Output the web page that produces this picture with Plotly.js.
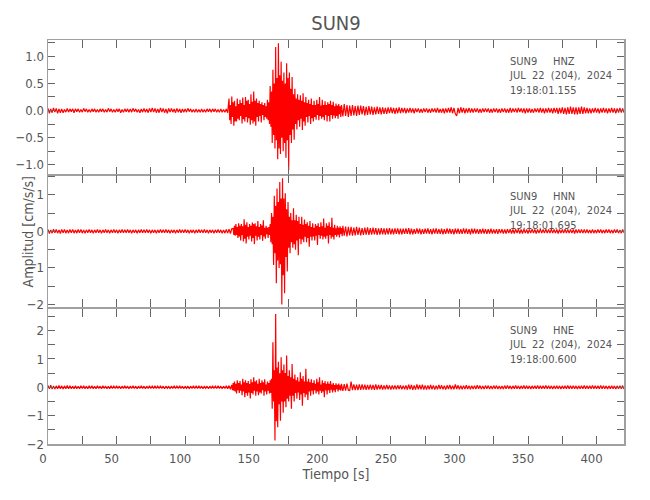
<!DOCTYPE html>
<html>
<head>
<meta charset="utf-8">
<script src="https://cdn.plot.ly/plotly-3.0.1.min.js"></script>
<style>html,body{margin:0;padding:0;background:#fff;}#chart{width:650px;height:500px;}</style>
</head>
<body>
<div id="chart"></div>
<script>
// ---------- data (acceleration, cm/s/s) ----------
var chartTitle = 'SUN9';
var xTitle = 'Tiempo [s]';
var yTitle = 'Amplitud [cm/s/s]';
var stations = ['SUN9', 'SUN9', 'SUN9'];
var channels = ['HNZ', 'HNN', 'HNE'];
var dateLabel = 'JUL  22  (204),  2024';
var startTimes = ['19:18:01.155', '19:18:01.695', '19:18:00.600'];

// segment start times [s] and sample steps [s]
var Z_starts = [0, 132, 215, 261];
var N_starts = [0, 135, 215, 261];
var E_starts = [0, 134, 215, 261];
var seg_steps = [1, 0.5, 1, 1];

// HNZ
var Z_pre = [.04,-.05,.03,-.04,.05,-.03,.04,-.05,.03,-.04,
.03,-.04,.02,-.03,.04,-.03,.03,-.02,.03,-.04,
.03,-.02,.03,-.03,.02,-.03,.04,-.02,.03,-.03,
.02,-.03,.03,-.02,.03,-.03,.02,-.03,.03,-.02,
.03,-.03,.02,-.03,.04,-.02,.03,-.03,.02,-.03,
.03,-.02,.03,-.04,.02,-.03,.03,-.02,.03,-.03,
.03,-.03,.04,-.02,.03,-.03,.02,-.04,.03,-.03,
.04,-.03,.03,-.04,.04,-.03,.05,-.03,.04,-.04,
.03,-.04,.05,-.03,.04,-.04,.03,-.05,.04,-.03,
.04,-.03,.03,-.04,.04,-.03,.03,-.04,.03,-.03,
.03,-.03,.04,-.02,.03,-.03,.02,-.03,.03,-.03,
.02,-.03,.03,-.03,.02,-.03,.03,-.02,.03,-.03,
.03,-.02,.03,-.03,.02,-.03,.03,-.03,.02,-.03,
.03,-.04];
var Z_event = [.22,-.18, .1,-.25, .26,-.12, .15,-.28, .18,-.2, .08,-.2, .22,-.15, .12,-.18, .2,-.1, .14,-.24,
.24,-.16, .1,-.2, .25,-.12, .18,-.22, .2,-.14, .12,-.26, .3,-.18, .16,-.24, .35,-.2, .18,-.28,
.22,-.12, .14,-.2, .18,-.1, .12,-.22, .15,-.08, .1,-.18, .14,-.12, .08,-.15, .2,-.18, .15,-.25,
.45,-.3, .35,-.6, .75,-.45, .5,-.7, 1.17,-.55, .6,-.9, 1.24,-.7, .65,-.8, .9,-.5, .55,-.75,
.7,-.6, .5,-.87, .87,-.55, .6,-1.1, .7,-.45, .4,-.6, .62,-.35, .3,-.54, .4,-.25, .22,-.35,
.3,-.18, .2,-.3, .28,-.15, .18,-.36, .32,-.2, .15,-.28, .25,-.12, .14,-.22, .2,-.1, .12,-.25,
.22,-.14, .1,-.2, .18,-.12, .1,-.17, .2,-.08, .12,-.18, .25,-.1, .09,-.15, .2,-.12, .1,-.18,
.17,-.08, .1,-.2, .15,-.1, .12,-.2, .18,-.08, .1,-.15, .16,-.09, .08,-.14, .13,-.1, .09,-.15,
.12,-.07, .08,-.12, .1,-.08];
var Z_coda = [-.11,.12,-.1,.1,-.12,.09,-.1,.1,-.09,.08,
-.1,.09,-.08,.09,-.07,.08,-.09,.07,-.08,.08,
-.07,.07,-.08,.06,-.07,.07,-.06,.06,-.07,.06,
-.06,.05,-.06,.06,-.05,.06,-.05,.05,-.06,.05,
-.05,.06,-.05,.05,-.04,.05];
var Z_tail = [-.05,.04,-.04,.05,-.04,.04,-.05,.04,-.03,.04,
-.04,.03,-.04,.04,-.03,.04,-.04,.03,-.04,.04,
-.03,.04,-.04,.05,-.04,.03,-.04,.04,-.05,.04,
-.04,.05,-.04,.06,-.05,.05,-.06,-.1,.05,-.05,
.06,-.04,.05,-.05,.04,-.04,.05,-.04,.04,-.04,
.04,-.03,.04,-.04,.03,-.04,.04,-.03,.04,-.03,
.04,-.04,.03,-.04,.04,-.03,.04,-.04,.03,-.04,
.04,-.03,.04,-.04,.03,-.04,.05,-.04,.04,-.03,
.04,-.04,.05,-.03,.04,-.04,.04,-.05,.04,-.04,
.04,-.04,.03,-.04,.04,-.03,.04,-.04,.05,-.04,
.04,-.05,.04,-.04,.05,-.04,.04,-.05,.05,-.04,
.05,-.06,.05,-.05,.06,-.06,.05,-.07,.06,-.06,
.07,-.06,.06,-.07,.06,-.07,.06,-.06,.07,-.06,
.06,-.05,.05,-.05,.04,-.05,.04,-.04,.05,-.04,
.04,-.05,.04,-.04,.05,-.04,.04,-.05,.04,-.04,
.05,-.04,.04,-.05,.04,-.04,.05,-.04,.04,-.04];

// HNN
var N_pre = [.05,-.06,.04,-.05,.06,-.04,.05,-.05,.04,-.06,
.05,-.04,.05,-.05,.04,-.05,.05,-.04,.05,-.05,
.04,-.05,.05,-.04,.05,-.05,.04,-.05,.04,-.04,
.05,-.04,.04,-.05,.04,-.04,.05,-.04,.04,-.05,
.04,-.04,.05,-.04,.04,-.05,.04,-.04,.05,-.04,
.04,-.05,.04,-.04,.05,-.04,.04,-.04,.05,-.04,
.04,-.05,.04,-.04,.04,-.05,.04,-.04,.05,-.04,
.04,-.04,.05,-.04,.04,-.05,.04,-.04,.04,-.05,
.04,-.04,.05,-.04,.04,-.04,.05,-.04,.04,-.05,
.04,-.04,.04,-.05,.04,-.04,.05,-.04,.04,-.04,
.05,-.04,.04,-.05,.04,-.04,.04,-.05,.04,-.04,
.05,-.04,.04,-.04,.05,-.04,.04,-.05,.04,-.04,
.04,-.05,.04,-.04,.05,-.04,.04,-.05,.04,-.05,
.05,-.05,.06,-.06,.07];
var N_event = [.08,-.1, .15,-.12, .2,-.1, .12,-.18, .22,-.14, .15,-.25, .2,-.1, .14,-.28, .33,-.2, .18,-.33,
.25,-.15, .12,-.22, .2,-.12, .15,-.28, .24,-.18, .2,-.35, .22,-.12, .14,-.25, .28,-.15, .12,-.22,
.2,-.1, .16,-.26, .3,-.14, .1,-.2, .15,-.08, .1,-.18, .12,-.1, .2,-.3, .5,-.35, .4,-.92,
.97,-.6, .7,-1.42, 1.17,-.8, .8,-1.0, 1.35,-.9, .9,-2.0, 1.45,-1.2, .9,-1.69, 1.04,-.7, .6,-1.1,
.8,-.45, .4,-.6, .5,-.3, .3,-.45, .63,-.35, .3,-.5, .45,-.25, .28,-.65, .4,-.2, .2,-.35,
.4,-.22, .18,-.3, .32,-.15, .2,-.3, .25,-.18, .15,-.42, .28,-.15, .12,-.25, .22,-.14, .1,-.25,
.2,-.12, .15,-.37, .22,-.1, .12,-.2, .25,-.12, .14,-.22, .35,-.15, .1,-.2, .22,-.12, .15,-.33,
.25,-.1, .12,-.2, .37,-.15, .1,-.22, .18,-.1, .08,-.15, .15,-.09, .1,-.17, .14,-.07, .09,-.13];
var N_coda = [.15,-.12,.13,-.14,.12,-.11,.12,-.12,.1,-.11,
.12,-.1,.1,-.11,.09,-.1,.1,-.09,.11,-.1,
.09,-.09,.1,-.08,.09,-.1,.08,-.09,.09,-.08,
.08,-.09,.08,-.08,.09,-.08,.07,-.08,.08,-.07,
.08,-.08,.07,-.08,.07,-.07];
var N_tail = [.08,-.07,.09,-.08,.07,-.08,.06,-.07,.08,-.06,
.07,-.08,.06,-.07,.07,-.06,.08,-.07,.06,-.08,
.07,-.06,.08,-.07,.06,-.07,.07,-.08,.06,-.07,
.08,-.06,.07,-.07,.06,-.08,.07,-.06,.07,-.07,
.06,-.07,.08,-.06,.07,-.07,.06,-.08,.07,-.06,
.07,-.06,.06,-.07,.06,-.06,.07,-.06,.06,-.07,
.06,-.06,.07,-.06,.05,-.06,.06,-.07,.06,-.05,
.06,-.06,.05,-.06,.06,-.05,.06,-.06,.05,-.06,
.06,-.05,.06,-.06,.05,-.06,.06,-.05,.05,-.06,
.05,-.05,.06,-.05,.05,-.06,.05,-.05,.06,-.05,
.05,-.05,.06,-.05,.05,-.05,.06,-.05,.05,-.05,
.05,-.06,.05,-.05,.05,-.05,.06,-.05,.05,-.05,
.05,-.05,.05,-.06,.05,-.05,.05,-.05,.05,-.05,
.05,-.05,.05,-.05,.04,-.05,.05,-.05,.04,-.05,
.05,-.04,.05,-.05,.04,-.05,.05,-.04,.05,-.05,
.04,-.05,.05,-.04,.05,-.05,.04,-.05,.05,-.04];

// HNE
var E_pre = [.06,-.05,.07,-.06,.05,-.06,.05,-.05,.06,-.05,
.05,-.06,.05,-.05,.06,-.05,.05,-.05,.04,-.05,
.05,-.05,.04,-.05,.05,-.04,.05,-.05,.04,-.05,
.05,-.04,.05,-.05,.04,-.05,.05,-.04,.04,-.05,
.05,-.04,.04,-.05,.04,-.05,.05,-.04,.04,-.04,
.05,-.04,.04,-.05,.04,-.04,.05,-.04,.04,-.05,
.04,-.04,.05,-.04,.04,-.05,.04,-.04,.05,-.04,
.04,-.05,.04,-.04,.05,-.04,.04,-.04,.05,-.04,
.04,-.04,.05,-.04,.04,-.05,.04,-.04,.04,-.05,
.04,-.04,.05,-.04,.04,-.04,.05,-.04,.04,-.05,
.04,-.04,.04,-.05,.04,-.04,.05,-.04,.04,-.04,
.05,-.04,.04,-.05,.04,-.04,.04,-.05,.04,-.04,
.05,-.04,.04,-.04,.05,-.04,.04,-.05,.04,-.04,
.05,-.05,.06,-.07];
var E_event = [.08,-.1, .15,-.12, .2,-.15, .12,-.22, .25,-.1, .15,-.2, .22,-.12, .1,-.28, .3,-.15, .18,-.35,
.25,-.2, .15,-.3, .22,-.18, .12,-.39, .28,-.2, .18,-.25, .35,-.12, .2,-.3, .25,-.15, .12,-.28,
.3,-.18, .15,-.22, .25,-.1, .18,-.3, .28,-.15, .1,-.25, .2,-.12, .15,-.22, .25,-.2, .3,-.76,
1.59,-.5, .6,-1.88, 2.59,-1.2, .7,-1.41, .9,-.6, .5,-1.18, 1.06,-.5, .6,-.9, .8,-.5, .5,-.7,
1.12,-.4, .4,-.5, .6,-.3, .35,-.76, .82,-.3, .3,-.5, .45,-.2, .25,-.4, .35,-.18, .2,-.45,
.53,-.25, .3,-.65, .4,-.2, .2,-.35, .65,-.25, .2,-.45, .3,-.15, .18,-.3, .28,-.12, .15,-.25,
.25,-.1, .12,-.22, .3,-.15, .18,-.25, .35,-.12, .1,-.2, .25,-.15, .15,-.35, .22,-.1, .12,-.25,
.2,-.1, .12,-.2, .22,-.08, .1,-.18, .15,-.1, .08,-.17, .14,-.07, .09,-.15, .13,-.08, .07,-.12,
.12,-.08];
var E_coda = [-.13,.11,-.12,.13,-.1,-.11,.2,-.1,.1,-.1,
.09,-.1,.1,-.09,.1,-.08,.09,-.09,.08,-.08,
.09,-.08,.08,-.09,.1,-.08,.08,-.07,.08,-.08,
.07,-.07,.08,-.07,.07,-.08,.07,-.07,.07,-.07,
.07,-.06,.07,-.07,.06,-.07];
var E_tail = [.07,-.08,.09,-.07,.08,-.09,.07,-.08,.1,-.07,
.08,-.07,.09,-.08,.07,-.08,.07,-.07,.08,-.07,
.07,-.08,.06,-.07,.08,-.06,.07,-.07,.06,-.08,
.07,-.06,.08,-.07,.06,-.07,.1,-.06,.07,-.07,
.06,-.07,.06,-.06,.07,-.06,.06,-.07,.06,-.06,
.06,-.06,.07,-.05,.06,-.06,.05,-.06,.06,-.05,
.06,-.06,.05,-.06,.06,-.05,.06,-.06,.05,-.06,
.05,-.06,.06,-.05,.06,-.05,.05,-.06,.05,-.05,
.06,-.05,.05,-.06,.05,-.05,.06,-.05,.05,-.05,
.05,-.06,.05,-.05,.05,-.05,.06,-.05,.05,-.05,
.05,-.05,.06,-.05,.05,-.05,.05,-.06,.05,-.05,
.05,-.05,.05,-.06,.05,-.05,.05,-.05,.06,-.05,
.05,-.05,.05,-.05,.05,-.06,.05,-.05,.05,-.05,
.06,-.05,.05,-.05,.05,-.05,.06,-.05,.05,-.05,
.05,-.05,.06,-.05,.05,-.05,.05,-.06,.05,-.05,
.05,-.05,.05,-.06,.05,-.05,.05,-.05,.06,-.06];

// ---------- build traces ----------
function buildSeries(starts, steps, segs) {
  var xs = [], ys = [];
  for (var s = 0; s < segs.length; s++) {
    for (var i = 0; i < segs[s].length; i++) {
      xs.push(starts[s] + i * steps[s]);
      ys.push(segs[s][i]);
    }
  }
  return {x: xs, y: ys};
}
var zS = buildSeries(Z_starts, seg_steps, [Z_pre, Z_event, Z_coda, Z_tail]);
var nS = buildSeries(N_starts, seg_steps, [N_pre, N_event, N_coda, N_tail]);
var eS = buildSeries(E_starts, seg_steps, [E_pre, E_event, E_coda, E_tail]);

var lineStyle = {color: '#ff0000', width: 1.2};
var data = [
  {x: zS.x, y: zS.y, xaxis: 'x', yaxis: 'y', type: 'scatter', mode: 'lines', line: lineStyle, hoverinfo: 'skip'},
  {x: nS.x, y: nS.y, xaxis: 'x2', yaxis: 'y2', type: 'scatter', mode: 'lines', line: lineStyle, hoverinfo: 'skip'},
  {x: eS.x, y: eS.y, xaxis: 'x3', yaxis: 'y3', type: 'scatter', mode: 'lines', line: lineStyle, hoverinfo: 'skip'}
];

var FONT = '"DejaVu Sans Condensed", "DejaVu Sans", sans-serif';
var TXT = '#555555';
var LINEC = '#a0a0a0';
var TICKC = '#666666';

function xAx(anchor, labels) {
  var a = {
    anchor: anchor, domain: [0, 1], range: [0, 420], autorange: false,
    showline: true, linecolor: LINEC, linewidth: 1.5, mirror: 'ticks',
    ticks: 'inside', ticklen: 8, tickwidth: 1, tickcolor: TICKC,
    tickmode: 'linear', tick0: 0, dtick: 50,
    minor: {tickmode: 'linear', tick0: 0, dtick: 25, ticks: 'inside', ticklen: 8, tickwidth: 1, tickcolor: TICKC},
    showgrid: false, zeroline: false,
    showticklabels: labels,
    tickfont: {family: FONT, size: 13, color: TXT}
  };
  if (labels) {
    a.ticklabelshift = -5;
    a.ticklabelstandoff = 2;
    a.title = {text: xTitle, font: {family: FONT, size: 14, color: TXT}, standoff: 4};
  } else {
    a.matches = 'x3';
  }
  return a;
}
function yAx(anchor, dom, rng, dt, mdt, fmt) {
  return {
    anchor: anchor, domain: dom, range: rng, autorange: false,
    showline: true, linecolor: LINEC, linewidth: 1.5, mirror: 'ticks',
    ticks: 'inside', ticklen: 7, tickwidth: 1, tickcolor: TICKC,
    tickmode: 'linear', tick0: 0, dtick: dt, tickformat: fmt,
    minor: {tickmode: 'linear', tick0: 0, dtick: mdt, ticks: 'inside', ticklen: 7, tickwidth: 1, tickcolor: TICKC},
    showgrid: false, zeroline: false,
    tickfont: {family: FONT, size: 13, color: TXT}
  };
}

var annotations = [];
var yrefs = ['y domain', 'y2 domain', 'y3 domain'];
for (var p = 0; p < 3; p++) {
  var txt = stations[p] + '\u00a0\u00a0\u00a0\u00a0\u00a0' + channels[p] + '<br>' +
            dateLabel.replace(/ /g, '\u00a0') + '<br>' + startTimes[p];
  annotations.push({
    text: txt, xref: 'paper', x: 0.799, xanchor: 'left', align: 'left',
    yref: yrefs[p], y: 1, yshift: -14, yanchor: 'top',
    showarrow: false, borderpad: 0, font: {family: FONT, size: 11, color: TXT}
  });
}
annotations.push({
  text: yTitle, xref: 'paper', yref: 'paper', x: -0.033, y: 0.526,
  xanchor: 'center', yanchor: 'middle', textangle: -90, showarrow: false,
  font: {family: FONT, size: 14, color: TXT}
});

var layout = {
  width: 650, height: 500,
  margin: {l: 48, r: 26, t: 40, b: 56},
  paper_bgcolor: '#ffffff', plot_bgcolor: '#ffffff',
  showlegend: false,
  title: {text: chartTitle, x: 0.5, xref: 'paper', xanchor: 'center', y: 0.954, yref: 'container', yanchor: 'middle',
          font: {family: FONT, size: 20, color: TXT}},
  xaxis: xAx('y', false),
  xaxis2: xAx('y2', false),
  xaxis3: xAx('y3', true),
  yaxis: yAx('x', [0.667, 1], [-1.18, 1.30], 0.5, 0.25, '.1f'),
  yaxis2: yAx('x2', [0.338, 0.665], [-2.08, 1.53], 1, 0.5, 'd'),
  yaxis3: yAx('x3', [0, 0.334], [-2.0, 2.76], 1, 0.5, 'd'),
  annotations: annotations
};

Plotly.newPlot('chart', data, layout, {staticPlot: true, displayModeBar: false});
</script>
</body>
</html>
